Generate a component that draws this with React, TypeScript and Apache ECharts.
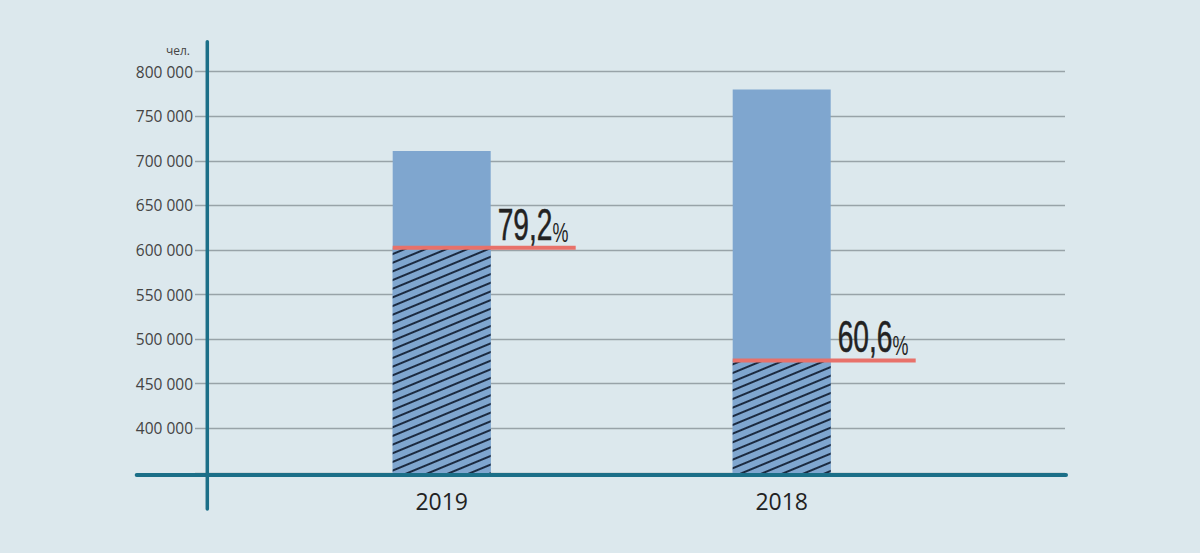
import React, { useEffect, useRef } from "react";
import * as echarts from "echarts";

const categories = ["2019", "2018"];
const totals = [711000, 780000];
const shares = [602500, 476000];
const percentLabels = ["79,2", "60,6"];
const yMin = 350000;
const yMax = 800000;
const yStep = 50000;
const unitLabel = "чел.";

const BG = "#dce8ed";
const BAR = "#7fa6cf";
const HATCH = "#1b2a40";
const AXIS = "#1b6f88";
const GRID = "#98a3a8";
const RED = "#e8716a";

function fmt(v: number) {
  const s = String(Math.round(v));
  return s.replace(/\B(?=(\d{3})+(?!\d))/g, " ");
}

export default function App() {
  const ref = useRef<HTMLDivElement>(null);
  useEffect(() => {
    document.body.style.margin = "0";
    const chart = echarts.init(ref.current!, null, { renderer: "svg" });
    const barWidth = 98;
    const markerData = shares.map((v, i) => [i, v, i]);
    chart.setOption({
      animation: false,
      backgroundColor: BG,
      grid: [
        { left: 195, right: 135, top: 71.7, bottom: 80.1 },
        { left: 271.7, right: 248.3, top: 71.7, bottom: 80.1 },
      ],
      xAxis: [
        { gridIndex: 0, type: "category", data: categories, show: false },
        {
          gridIndex: 1,
          type: "category",
          data: categories,
          axisLine: { show: false },
          axisTick: { show: false },
          axisLabel: {
            margin: 17,
            fontFamily: "Open Sans",
            fontSize: 23,
            lineHeight: 23,
            color: "#222",
          },
        },
      ],
      yAxis: [
        {
          gridIndex: 0,
          type: "value",
          min: yMin,
          max: yMax,
          interval: yStep,
          axisLine: { show: false },
          axisTick: { show: false },
          splitLine: { show: true, lineStyle: { color: GRID, width: 1.3 } },
          axisLabel: {
            margin: 2,
            fontFamily: "Open Sans",
            fontSize: 15.5,
            color: "#444",
            formatter: (v: number) => (v === yMin ? "" : fmt(v)),
          },
        },
        {
          gridIndex: 1,
          type: "value",
          min: yMin,
          max: yMax,
          interval: yStep,
          show: false,
        },
      ],
      series: [
        {
          type: "bar",
          xAxisIndex: 1,
          yAxisIndex: 1,
          data: totals,
          barWidth,
          itemStyle: { color: BAR },
          z: 3,
        },
        {
          type: "bar",
          xAxisIndex: 1,
          yAxisIndex: 1,
          data: shares,
          barWidth,
          barGap: "-100%",
          itemStyle: {
            color: BAR,
            decal: {
              symbol: "rect",
              symbolSize: 1,
              dashArrayX: [1, 0],
              dashArrayY: [1.2, 5.8],
              rotation: -Math.PI / 8,
              color: HATCH,
            },
          },
          z: 4,
        },
        {
          type: "custom",
          xAxisIndex: 1,
          yAxisIndex: 1,
          data: markerData,
          z: 5,
          renderItem: (params: any, api: any) => {
            const idx = api.value(0);
            const pt = api.coord([idx, api.value(1)]);
            const half = barWidth / 2;
            return {
              type: "group",
              children: [
                {
                  type: "line",
                  shape: { x1: pt[0] - half, y1: pt[1], x2: pt[0] + half + 85, y2: pt[1] },
                  style: { stroke: RED, lineWidth: 4 },
                },
                {
                  type: "text",
                  x: pt[0] + half + 7,
                  y: pt[1] - 1,
                  scaleX: 0.64,
                  style: {
                    text: "{n|" + percentLabels[api.value(2)] + "}{p|%}",
                    align: "left",
                    verticalAlign: "bottom",
                    rich: {
                      n: {
                        fontFamily: "Liberation Sans",
                        fontSize: 44,
                        lineHeight: 44,
                        fill: "#222",
                        stroke: "#222",
                        lineWidth: 0.5,
                        verticalAlign: "bottom",
                      },
                      p: {
                        fontFamily: "Liberation Sans",
                        fontSize: 28,
                        lineHeight: 33.5,
                        fill: "#222",
                        verticalAlign: "bottom",
                      },
                    },
                  },
                },
              ],
            };
          },
        },
      ],
      graphic: [
        {
          type: "line",
          z: 10,
          shape: { x1: 136.7, y1: 475, x2: 1066, y2: 475 },
          style: { stroke: AXIS, lineWidth: 4, lineCap: "round" },
        },
        {
          type: "line",
          z: 10,
          shape: { x1: 207.3, y1: 41.7, x2: 207.3, y2: 509 },
          style: { stroke: AXIS, lineWidth: 3.5, lineCap: "round" },
        },
        {
          type: "text",
          z: 10,
          x: 190,
          y: 50,
          style: {
            text: unitLabel,
            fontFamily: "Open Sans",
            fontSize: 12,
            fill: "#444",
            align: "right",
            verticalAlign: "middle",
          },
        },
      ],
    });
    return () => chart.dispose();
  }, []);
  return <div ref={ref} style={{ width: 1200, height: 553, background: BG }} />;
}
